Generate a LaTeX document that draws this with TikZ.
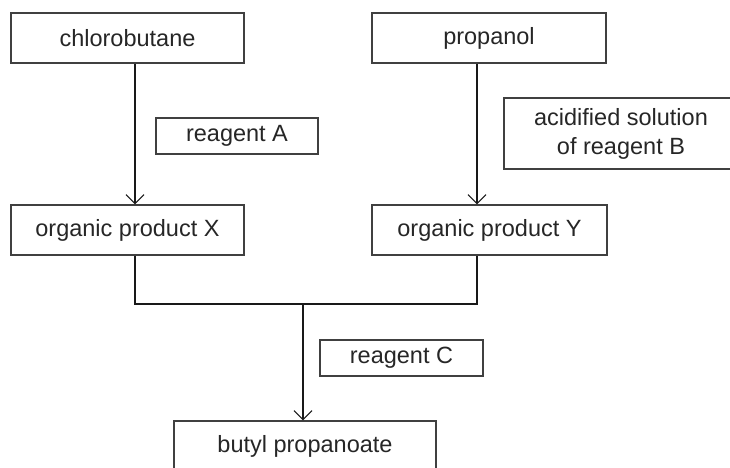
\documentclass[tikz,border=0pt]{standalone}
\usepackage{fontspec}
\setmainfont{Liberation Sans}
\usetikzlibrary{arrows.meta}

\tikzset{
  box/.style={draw=black!75, line width=1.3pt, inner sep=0pt, align=center,
    text=black!85, font=\fontsize{23.5}{29}\selectfont},
  link/.style={draw=black!90, line width=1.8pt},
  arr/.style={link, -{Straight Barb[length=9pt,width=18pt,line width=1.1pt]}}
}

\begin{document}
\begin{tikzpicture}[x=1pt,y=-1pt]

        \useasboundingbox (0,0) rectangle (730,467);
        \clip (0,0) rectangle (730,467);

        % starting compounds
        \node[box, minimum width=233, minimum height=50] (chloro) at (127.5,38) {chlorobutane};
        \node[box, minimum width=234, minimum height=50] (prop) at (489,38) {propanol};

        % reagents
        \node[box, minimum width=162, minimum height=36] (reagA) at (237,136) {reagent A};
        \node[box, minimum width=234, minimum height=71] (reagB) at (621,133.5) {acidified solution\\of reagent B};

        % intermediates
        \node[box, minimum width=233, minimum height=50] (prodX) at (127.5,230) {organic product X};
        \node[box, minimum width=235, minimum height=50] (prodY) at (489.5,230) {organic product Y};

        \node[box, minimum width=163, minimum height=36] (reagC) at (401.5,358) {reagent C};
        \node[box, minimum width=262, minimum height=50] (ester) at (305,446) {butyl propanoate};

        \coordinate (join) at (303,304);

        \draw[arr] ([xshift=7.5]chloro.south) -- ([xshift=7.5]prodX.north);
        \draw[arr] ([xshift=-12]prop.south) -- ([xshift=-12.5]prodY.north);
        \draw[link] ([xshift=7.5]prodX.south) |- (join) -| ([xshift=-12.5]prodY.south);
        \draw[arr] (join) -- (join |- ester.north);
    \end{tikzpicture}
\end{document}
